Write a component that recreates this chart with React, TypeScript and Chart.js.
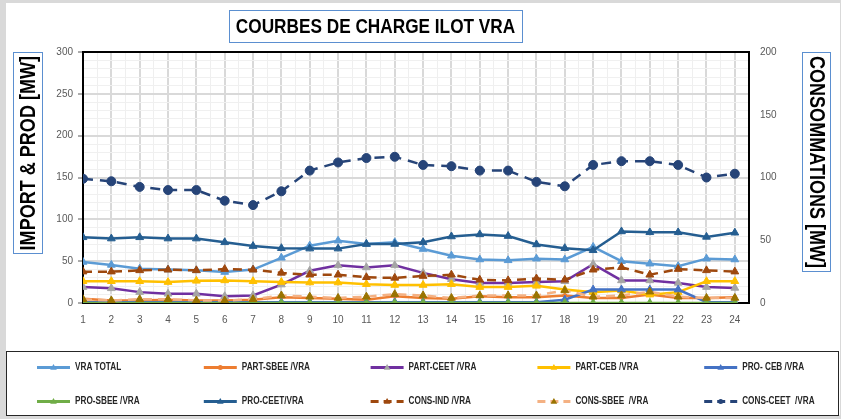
import React, { useEffect, useRef } from 'react';
import { Chart, registerables } from 'chart.js';

Chart.register(...registerables);

const TITLE = 'COURBES DE CHARGE ILOT VRA';
const LEFT_TITLE = 'IMPORT & PROD [MW]';
const RIGHT_TITLE = 'CONSOMMATIONS [MW]';

const hours = [1, 2, 3, 4, 5, 6, 7, 8, 9, 10, 11, 12, 13, 14, 15, 16, 17, 18, 19, 20, 21, 22, 23, 24];

const seriesNames = [
  'VRA TOTAL',
  'PART-SBEE /VRA',
  'PART-CEET /VRA',
  'PART-CEB /VRA',
  'PRO- CEB /VRA',
  'PRO-SBEE /VRA',
  'PRO-CEET/VRA',
  'CONS-IND /VRA',
  'CONS-SBEE  /VRA',
  'CONS-CEET  /VRA',
];

// left axis (IMPORT & PROD)
const vraTotal = [49, 45.5, 41, 40, 39, 37, 40, 54, 68.5, 74.5, 70.5, 72.5, 64.5, 56.5, 52, 51, 53, 52, 67, 50, 47, 44, 53, 52];
const partSbee = [5, 3, 3, 4, 3, 3, 4, 7, 6, 5, 4, 8, 6, 5, 8, 7, 7, 9, 6, 6, 10, 6, 6, 7];
const partCeet = [19, 17.5, 13, 11, 11, 8, 9, 22, 38.5, 45, 42.5, 45, 36, 28.5, 24, 24, 25, 26, 46.5, 27, 27, 24, 19, 18];
const partCeb = [26, 26, 26, 25, 26.5, 27, 26, 25, 24.5, 24.5, 22.5, 21.5, 21.5, 22.5, 19, 19, 20.5, 16, 13, 15, 10, 13, 26, 26];
const proCeb = [1, 1, 1, 1, 1, 1, 1, 1, 1, 1, 1, 1, 1, 1, 1, 1, 1, 4, 16, 16, 16, 16, 1, 1];
const proSbee = [0, 0, 0, 0, 0, 0, 0, 0, 0, 0, 0, 0, 0, 0, 0, 0, 0, 0, 0, 0, 0, 0, 0, 0];
const proCeet = [78.5, 77, 78.5, 77, 77, 72.5, 68, 65.5, 65, 65, 70.5, 70.5, 72.5, 79.5, 82, 80, 70, 65.5, 63, 85.5, 84.5, 84.5, 79, 84];
// right axis (CONSOMMATIONS)
const consInd = [25, 25, 26, 26.5, 26, 27, 26.5, 24, 22.5, 22.5, 20.5, 20, 21.5, 22.5, 18.5, 18, 19.5, 18.5, 26.5, 28.5, 22.5, 27, 26, 25];
const consSbee = [3, 2, 3, 3, 2, 2, 3, 6, 5, 4, 5, 7, 6, 4, 6, 6, 6, 10, 5, 6, 9, 5, 4, 4];
const consCeet = [99, 97, 92.5, 90, 90, 81.5, 78, 89, 105.5, 112, 115.5, 116.5, 110, 109, 105.5, 105.5, 96.5, 93, 110, 113, 113, 110, 100, 103];

const leftTicks = [0, 50, 100, 150, 200, 250, 300];
const rightTicks = [0, 50, 100, 150, 200];

const BOLD = '"Liberation Sans", Arial, sans-serif';
const REG = '"Liberation Sans", Arial, sans-serif';
const CONDENSE = 0.82;

function drawMarker(ctx: CanvasRenderingContext2D, style: string, x: number, y: number, r: number, fill: string) {
  ctx.save();
  ctx.setLineDash([]);
  ctx.fillStyle = fill;
  ctx.beginPath();
  if (style === 'triangle') {
    ctx.moveTo(x, y - r);
    ctx.lineTo(x + r * 0.95, y + r * 0.65);
    ctx.lineTo(x - r * 0.95, y + r * 0.65);
    ctx.closePath();
  } else {
    ctx.arc(x, y, r, 0, Math.PI * 2);
  }
  ctx.fill();
  ctx.restore();
}

function condensedText(
  ctx: CanvasRenderingContext2D, text: string, x: number, y: number, font: string,
  align: CanvasTextAlign, rotation: number, color: string,
) {
  ctx.save();
  ctx.translate(x, y);
  ctx.rotate(rotation);
  ctx.scale(CONDENSE, 1);
  ctx.font = font;
  ctx.fillStyle = color;
  ctx.textAlign = align;
  ctx.textBaseline = 'middle';
  ctx.fillText(text, 0, 0);
  const w = ctx.measureText(text).width * CONDENSE;
  ctx.restore();
  return w;
}

function measureCondensed(ctx: CanvasRenderingContext2D, text: string, font: string) {
  ctx.save();
  ctx.font = font;
  const w = ctx.measureText(text).width * CONDENSE;
  ctx.restore();
  return w;
}

const decorPlugin = {
  id: 'decor',
  beforeDraw(chart: any) {
    const { ctx, width, height } = chart;
    ctx.save();
    ctx.fillStyle = '#d9d9d9';
    ctx.fillRect(0, 0, width, height);
    ctx.fillStyle = '#ffffff';
    ctx.fillRect(6, 3, width - 7, height - 7);
    ctx.restore();
  },
  beforeDatasetsDraw(chart: any) {
    const { ctx, chartArea: a } = chart;
    ctx.save();
    ctx.strokeStyle = '#000000';
    ctx.lineWidth = 2;
    ctx.strokeRect(a.left, a.top, a.right - a.left, a.bottom - a.top);
    ctx.restore();
  },
  afterDraw(chart: any) {
    const { ctx, chartArea: a } = chart;
    ctx.save();
    // main title
    const tFont = `bold 21px ${BOLD}`;
    const tw = measureCondensed(ctx, TITLE, tFont);
    const cx = 375.5;
    ctx.strokeStyle = '#5b8fd0';
    ctx.lineWidth = 1;
    ctx.strokeRect(Math.round(cx - tw / 2 - 7) + 0.5, 10.5, Math.round(tw + 14), 32);
    condensedText(ctx, TITLE, cx, 27, tFont, 'center', 0, '#000000');

    // axis titles with boxes
    const aFont = `bold 22px ${BOLD}`;
    const lw = measureCondensed(ctx, LEFT_TITLE, aFont);
    const rw = measureCondensed(ctx, RIGHT_TITLE, aFont);
    ctx.strokeStyle = '#5b8fd0';
    ctx.lineWidth = 1;
    ctx.strokeRect(13.5, a.top + 0.5, 29, Math.round(lw + 7));
    ctx.strokeRect(802.5, a.top + 0.5, 28, Math.round(rw + 7));
    condensedText(ctx, LEFT_TITLE, 28.5, a.top + 4, aFont, 'right', -Math.PI / 2, '#000000');
    condensedText(ctx, RIGHT_TITLE, 816, a.top + 4, aFont, 'left', Math.PI / 2, '#000000');

    // legend box
    ctx.strokeStyle = '#262626';
    ctx.lineWidth = 1;
    ctx.strokeRect(6.5, 351.5, 832, 64);

    // legend items in a 5-column grid
    chart.data.datasets.forEach((ds: any, i: number) => {
      const col = i % 5;
      const row = Math.floor(i / 5);
      const x0 = 37 + col * 166.8;
      const y = 367.5 + row * 34;
      ctx.save();
      ctx.strokeStyle = ds.borderColor;
      ctx.lineWidth = 3;
      ctx.setLineDash(ds.borderDash && ds.borderDash.length ? [8, 5] : []);
      ctx.beginPath();
      ctx.moveTo(x0, y);
      ctx.lineTo(x0 + 33, y);
      ctx.stroke();
      ctx.restore();
      drawMarker(ctx, ds.pointStyle, x0 + 16.5, y, ds.pointStyle === 'circle' ? 2.5 : 3.5, ds.pointBackgroundColor);
      condensedText(ctx, ds.label, x0 + 38, y, `bold 10px ${BOLD}`, 'left', 0, '#262626');
    });
    ctx.restore();
  },
};

type Spec = { data: number[]; color: string; marker: string; style: string; r: number; dash?: number[]; axis: string };

const specs: Spec[] = [
  { data: vraTotal, color: '#5b9bd5', marker: '#5b9bd5', style: 'triangle', r: 4.5, axis: 'y' },
  { data: partSbee, color: '#ed7d31', marker: '#ed7d31', style: 'circle', r: 2, axis: 'y' },
  { data: partCeet, color: '#7030a0', marker: '#a5a5a5', style: 'triangle', r: 4.5, axis: 'y' },
  { data: partCeb, color: '#ffc000', marker: '#ffc000', style: 'triangle', r: 4.5, axis: 'y' },
  { data: proCeb, color: '#4472c4', marker: '#4472c4', style: 'triangle', r: 4.5, axis: 'y' },
  { data: proSbee, color: '#70ad47', marker: '#70ad47', style: 'triangle', r: 4.5, axis: 'y' },
  { data: proCeet, color: '#255e91', marker: '#255e91', style: 'triangle', r: 4.5, axis: 'y' },
  { data: consInd, color: '#9e480e', marker: '#9e480e', style: 'triangle', r: 4.5, dash: [9, 6], axis: 'y1' },
  { data: consSbee, color: '#f4b183', marker: '#997300', style: 'triangle', r: 4.5, dash: [9, 6], axis: 'y1' },
  { data: consCeet, color: '#264478', marker: '#264478', style: 'circle', r: 4.5, dash: [10, 7], axis: 'y1' },
];

export default function App() {
  const ref = useRef<HTMLCanvasElement | null>(null);

  useEffect(() => {
    if (!ref.current) return;
    const datasets = specs.map((s, i) => ({
      label: seriesNames[i],
      data: hours.map((h, k) => ({ x: h, y: s.data[k] })),
      borderColor: s.color,
      backgroundColor: s.marker,
      borderWidth: 2.5,
      borderDash: s.dash || [],
      pointStyle: s.style,
      pointRadius: s.r,
      pointBackgroundColor: s.marker,
      pointBorderColor: s.marker,
      pointBorderWidth: 1,
      tension: 0,
      fill: false,
      yAxisID: s.axis,
      order: 20 - i,
    }));

    const chart = new Chart(ref.current, {
      type: 'line',
      data: { datasets },
      plugins: [decorPlugin],
      options: {
        responsive: false,
        animation: false,
        events: [],
        layout: { padding: { top: 52, left: 0, right: 0, bottom: 0 } },
        plugins: {
          legend: { display: false },
          title: { display: false, text: TITLE },
          tooltip: { enabled: false },
        },
        scales: {
          x: {
            type: 'linear',
            min: 1,
            max: 24.5,
            afterFit: (s: any) => { s.height = 116; },
            border: { display: false },
            grid: {
              color: (c: any) => (Number.isInteger(c.tick?.value) ? '#d9d9d9' : '#efefef'),
              lineWidth: (c: any) => (Number.isInteger(c.tick?.value) ? 2 : 1),
              drawTicks: false,
            },
            ticks: {
              stepSize: 0.5,
              autoSkip: false,
              maxRotation: 0,
              padding: 11,
              color: '#595959',
              font: { family: REG, size: 10 },
              callback: (v: any) => (hours.includes(v) ? String(v) : ''),
            },
          },
          y: {
            position: 'left',
            min: 0,
            max: 300,
            afterFit: (s: any) => { s.width = 83; },
            border: { display: false },
            grid: {
              color: (c: any) => (leftTicks.includes(c.tick?.value) ? '#d9d9d9' : '#f0f0f0'),
              lineWidth: (c: any) => (leftTicks.includes(c.tick?.value) ? 2 : 1),
              tickColor: (c: any) => (leftTicks.includes(c.tick?.value) ? '#595959' : 'rgba(0,0,0,0)'),
              tickWidth: 1,
              tickLength: 5,
            },
            ticks: {
              stepSize: 10,
              autoSkip: false,
              padding: 5,
              color: '#595959',
              font: { family: REG, size: 10 },
              callback: (v: any) => (leftTicks.includes(v) ? String(v) : ''),
            },
          },
          y1: {
            position: 'right',
            min: 0,
            max: 200,
            afterFit: (s: any) => { s.width = 92; },
            border: { display: false },
            grid: { drawOnChartArea: false, drawTicks: false },
            ticks: {
              stepSize: 50,
              padding: 11,
              color: '#595959',
              font: { family: REG, size: 10 },
              callback: (v: any) => (rightTicks.includes(v) ? String(v) : ''),
            },
          },
        },
      } as any,
    });
    return () => chart.destroy();
  }, []);

  return (
    <div style={{ position: 'absolute', left: 0, top: 0, width: 841, height: 419 }}>
      <canvas ref={ref} width={841} height={419} style={{ display: 'block', width: 841, height: 419 }} />
    </div>
  );
}
